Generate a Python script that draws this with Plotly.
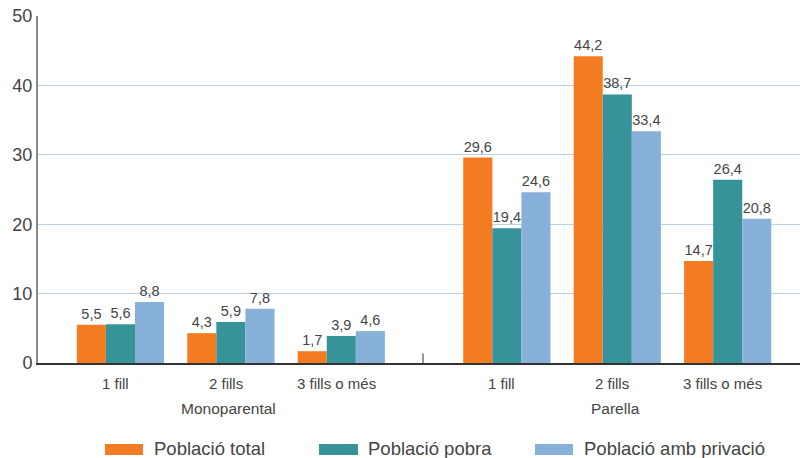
import plotly.graph_objects as go

categories = ["1 fill", "2 fills", "3 fills o més", "1 fill", "2 fills", "3 fills o més"]
groups = ["Monoparental", "Parella"]
x_pos = [0, 1, 2, 3.5, 4.5, 5.5]
series_names = ["Població total", "Població pobra", "Població amb privació"]
total = [5.5, 4.3, 1.7, 29.6, 44.2, 14.7]
pobra = [5.6, 5.9, 3.9, 19.4, 38.7, 26.4]
privacio = [8.8, 7.8, 4.6, 24.6, 33.4, 20.8]
colors = ["#F37C22", "#36939A", "#88B1D9"]

FONT = "Liberation Sans"
TXT = "#444444"

fig = go.Figure()
for name, vals, col in zip(series_names, [total, pobra, privacio], colors):
    fig.add_trace(go.Bar(
        x=x_pos, y=vals, name=name, marker=dict(color=col, line=dict(width=0)),
        texttemplate="%{y:.1f}", textposition="outside", cliponaxis=False,
        constraintext="none",
        textfont=dict(family=FONT, size=14.5, color=TXT), showlegend=False,
    ))

fig.update_layout(
    width=800, height=458,
    margin=dict(l=38, r=0, t=16, b=95),
    paper_bgcolor="white", plot_bgcolor="white",
    barmode="group", bargap=0.21, bargroupgap=0,
    separators=",.",
    font=dict(family=FONT, color=TXT),
    xaxis=dict(range=[-0.747, 6.155], tickvals=x_pos, showticklabels=False,
               showgrid=False, zeroline=False, showline=True, linecolor="#333333", linewidth=1.5,
               ticks=""),
    yaxis=dict(range=[0, 50], tickvals=[0, 10, 20, 30, 40, 50], showgrid=True,
               gridcolor="#B9D1E9", gridwidth=1.2, zeroline=False, showline=True,
               linecolor="#8a8a8a", linewidth=2, ticks="",
               tickfont=dict(family=FONT, size=18, color=TXT)),
)

# category labels
for c, xc in zip(categories, x_pos):
    fig.add_annotation(x=xc, xref="x", y=-0.0605, yref="paper", text=c, showarrow=False,
                       xshift=-5, font=dict(family=FONT, size=15, color=TXT), yanchor="middle")

# group labels
for g, xc in zip(groups, [1, 4.5]):
    fig.add_annotation(x=xc, xref="x", y=-0.131, yref="paper", text=g, showarrow=False,
                       xshift=-2, font=dict(family=FONT, size=15.5, color=TXT), yanchor="middle")

# separator tick between groups
fig.add_shape(type="line", xref="x", yref="y", x0=2.74, x1=2.74, y0=0, y1=1.4,
              line=dict(color="#333333", width=1))

# custom legend
leg_x = [(0.0879, 0.1378, 0.1496), (0.3688, 0.4199, 0.4304), (0.6522, 0.7021, 0.7139)]
for (x0, x1, xt), name, col in zip(leg_x, series_names, colors):
    fig.add_shape(type="rect", xref="paper", yref="paper", x0=x0, x1=x1, y0=-0.2335, y1=-0.265,
                  fillcolor=col, line=dict(width=0))
    fig.add_annotation(x=xt, xref="paper", y=-0.247, yref="paper", text=name, showarrow=False,
                       xanchor="left", yanchor="middle", font=dict(family=FONT, size=18.5, color=TXT))

fig.write_html("out.html", config={"displayModeBar": False},
               post_script="document.body.style.margin='0';")
